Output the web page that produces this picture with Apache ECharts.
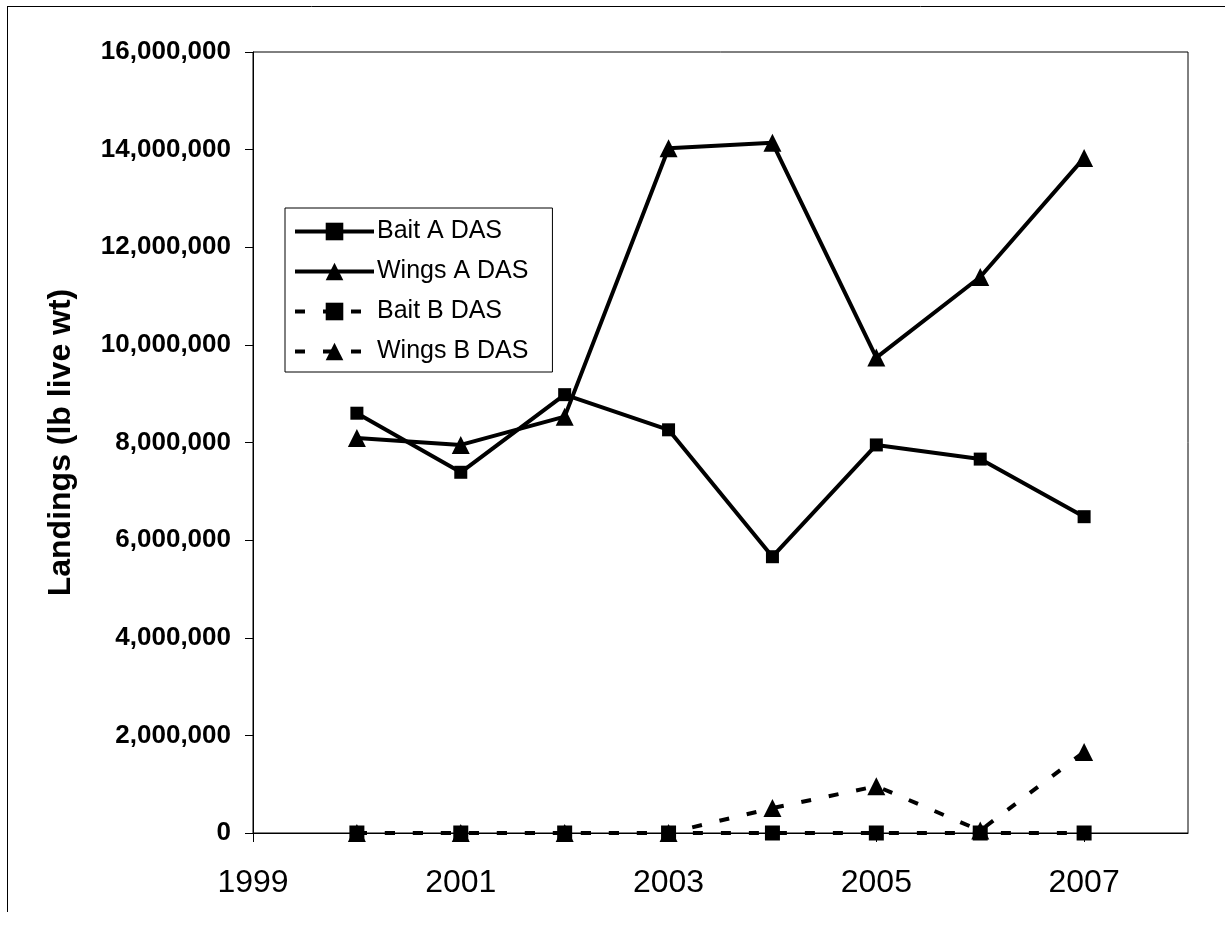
<!DOCTYPE html>
<html>
<head>
<meta charset="utf-8">
<title>Landings by DAS category</title>
<script src="https://cdn.jsdelivr.net/npm/echarts@6/dist/echarts.min.js"></script>
<style>
  html, body { margin: 0; padding: 0; background: #fff; }
  #chart { width: 1225px; height: 926px; }
</style>
</head>
<body>
<div id="chart"></div>
<script>
// Fishing years on the x axis
const years = [2000, 2001, 2002, 2003, 2004, 2005, 2006, 2007];

// Landings, lb live weight
const baitA  = [8600000, 7390000, 8980000, 8260000, 5660000, 7950000, 7660000, 6480000];
const wingsA = [8090000, 7950000, 8530000, 14030000, 14140000, 9740000, 11390000, 13830000];
const baitB  = [0, 0, 0, 0, 0, 0, 0, 0];
const wingsB = [0, 0, 0, 0, 510000, 960000, 50000, 1660000];

const seriesNames = ['Bait A DAS', 'Wings A DAS', 'Bait B DAS', 'Wings B DAS'];
const axisTitle = 'Landings (lb live wt)';

const FONT = '"Liberation Sans", Arial, sans-serif';

function pairs(values) {
  return years.map((y, i) => [y, values[i]]);
}

function withCommas(v) {
  return String(Math.round(v)).replace(/\B(?=(\d{3})+(?!\d))/g, ',');
}

function lineSeries(name, values, symbol, size, dashed) {
  return {
    name: name,
    type: 'line',
    data: pairs(values),
    symbol: symbol,
    symbolSize: size,
    showSymbol: true,
    lineStyle: { color: '#000', width: 4, type: dashed ? [10, 18] : 'solid' },
    itemStyle: { color: '#000', borderWidth: 0 },
    emphasis: { disabled: true },
    animation: false,
    z: 3
  };
}

const chart = echarts.init(document.getElementById('chart'), null, { renderer: 'canvas' });

chart.setOption({
  backgroundColor: '#ffffff',
  animation: false,
  textStyle: { fontFamily: FONT, color: '#000' },
  graphic: [
    // outer chart-area border (top and left edges)
    { type: 'line', shape: { x1: 7, y1: 6.5, x2: 1225, y2: 6.5 }, style: { stroke: '#000', lineWidth: 1 }, silent: true },
    { type: 'line', shape: { x1: 7.5, y1: 6, x2: 7.5, y2: 912 }, style: { stroke: '#000', lineWidth: 1 }, silent: true }
  ],
  grid: {
    left: 253, top: 52, right: 37, bottom: 93,
    show: true, borderColor: '#000', borderWidth: 1, backgroundColor: '#fff'
  },
  legend: {
    orient: 'vertical',
    left: 285, top: 208,
    data: seriesNames,
    itemWidth: 79, itemHeight: 22, itemGap: 15,
    padding: [11, 24, 8, 8],
    borderColor: '#000', borderWidth: 1,
    backgroundColor: '#fff',
    lineStyle: { width: 4, inactiveWidth: 4 },
    textStyle: { fontFamily: FONT, fontSize: 25, color: '#000', padding: [0, 0, 0, -2] },
    selectedMode: false
  },
  xAxis: {
    type: 'value',
    min: 1999, max: 2008, interval: 2,
    axisLine: { show: true, lineStyle: { color: '#000', width: 1 } },
    axisTick: { show: true, length: 9, lineStyle: { color: '#000' } },
    splitLine: { show: false },
    axisLabel: {
      fontFamily: FONT, fontSize: 32, color: '#000', margin: 34,
      showMaxLabel: false,
      formatter: v => String(v)
    }
  },
  yAxis: {
    type: 'value',
    min: 0, max: 16000000, interval: 2000000,
    name: axisTitle,
    nameLocation: 'middle',
    nameRotate: 90,
    nameGap: 176,
    nameTextStyle: { fontFamily: FONT, fontSize: 32, fontWeight: 'bold', color: '#000' },
    axisLine: { show: true, lineStyle: { color: '#000', width: 1 } },
    axisTick: { show: true, length: 8, lineStyle: { color: '#000' } },
    splitLine: { show: false },
    axisLabel: {
      fontFamily: FONT, fontSize: 26, fontWeight: 'bold', color: '#000', margin: 22,
      formatter: withCommas
    }
  },
  series: [
    lineSeries(seriesNames[0], baitA, 'rect', 13, false),
    lineSeries(seriesNames[1], wingsA, 'triangle', 18, false),
    lineSeries(seriesNames[2], baitB, 'rect', 15, true),
    lineSeries(seriesNames[3], wingsB, 'triangle', 18, true)
  ]
});
</script>
</body>
</html>
